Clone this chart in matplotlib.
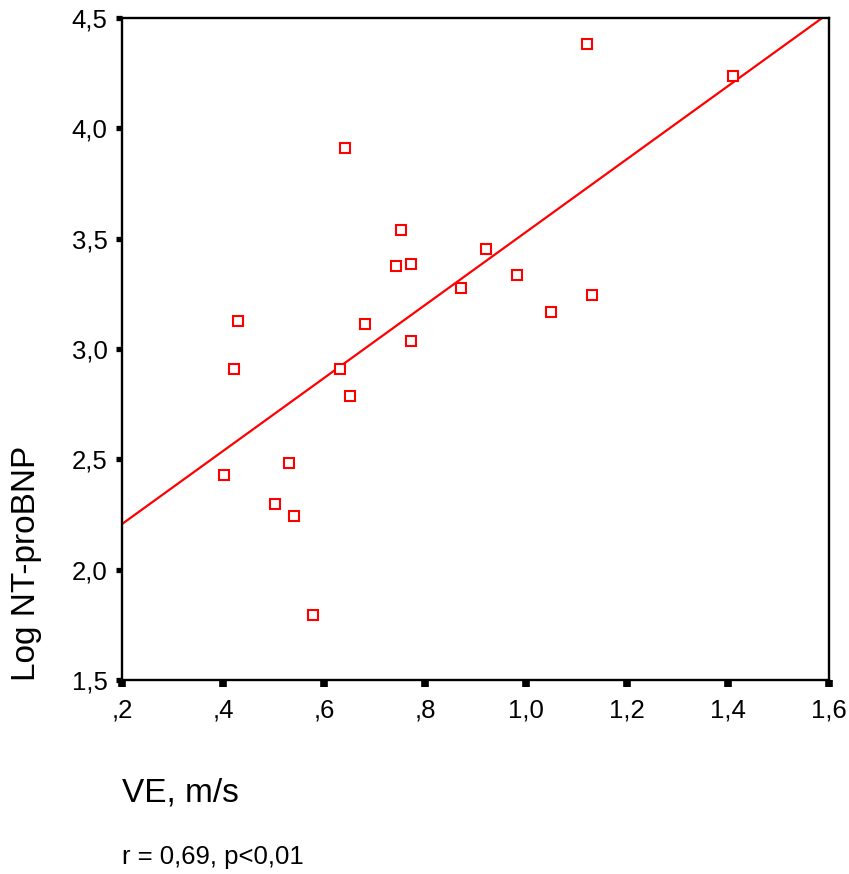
import matplotlib
matplotlib.use("Agg")
import matplotlib.pyplot as plt
from matplotlib.ticker import FixedLocator, FixedFormatter

plt.rcParams['font.family'] = ['Liberation Sans', 'DejaVu Sans']

# VE (m/s) against log NT-proBNP
ve = [1.121, 1.410, 0.642, 0.752, 0.743, 0.772, 0.921, 0.982, 0.871, 1.131, 1.049,
      0.430, 0.681, 0.772, 0.422, 0.632, 0.651, 0.402, 0.531, 0.503, 0.541, 0.578]
log_ntprobnp = [4.382, 4.237, 3.911, 3.539, 3.376, 3.385, 3.453, 3.336, 3.277, 3.245, 3.168,
                3.127, 3.113, 3.036, 2.910, 2.910, 2.787, 2.429, 2.484, 2.298, 2.244, 1.795]

# linear fit line: y = intercept + slope * x
fit_intercept = 1.876
fit_slope = 1.654

x_ticks = [0.2, 0.4, 0.6, 0.8, 1.0, 1.2, 1.4, 1.6]
x_ticklabels = [',2', ',4', ',6', ',8', '1,0', '1,2', '1,4', '1,6']
y_ticks = [1.5, 2.0, 2.5, 3.0, 3.5, 4.0, 4.5]
y_ticklabels = ['1,5', '2,0', '2,5', '3,0', '3,5', '4,0', '4,5']

fig = plt.figure(figsize=(8.49, 8.74), dpi=100)
ax = fig.add_axes([122 / 849, 1 - 680 / 874, (829 - 122) / 849, (680 - 18) / 874])

line_x = [x_ticks[0], x_ticks[-1]]
line_y = [fit_intercept + fit_slope * v for v in line_x]
ax.plot(line_x, line_y, color='#ff0000', lw=1.6, zorder=2)

ax.plot(ve, log_ntprobnp, linestyle='none', marker='s', markersize=7.2,
        markerfacecolor='white', markeredgecolor='#ff0000', markeredgewidth=1.5, zorder=3)

ax.set_xlim(0.2, 1.6)
ax.set_ylim(1.5, 4.5)
ax.xaxis.set_major_locator(FixedLocator(x_ticks))
ax.xaxis.set_major_formatter(FixedFormatter(x_ticklabels))
ax.yaxis.set_major_locator(FixedLocator(y_ticks))
ax.yaxis.set_major_formatter(FixedFormatter(y_ticklabels))

for s in ax.spines.values():
    s.set_linewidth(1.7)
    s.set_color('black')

ax.tick_params(axis='x', direction='out', length=5, width=5.5, pad=8, labelsize=18.5)
ax.tick_params(axis='y', direction='out', length=4.5, width=3.8, pad=6, labelsize=18.5)

fig.text(122 / 849, 1 - 793 / 874, 'VE, m/s', fontsize=24, ha='left', va='center')
fig.text(122 / 849, 1 - 857 / 874, 'r = 0,69, p<0,01', fontsize=18.5, ha='left', va='center')
fig.text(27 / 849, 1 - 681 / 874, 'Log NT-proBNP', fontsize=24, rotation=90,
         ha='center', va='bottom')

fig.savefig('out.png', dpi=100)
